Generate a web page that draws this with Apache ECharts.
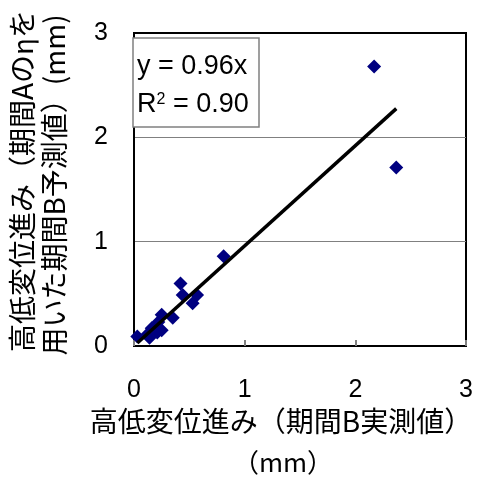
<!DOCTYPE html>
<html>
<head>
<meta charset="utf-8">
<script src="https://cdn.jsdelivr.net/npm/echarts@6/dist/echarts.min.js"></script>
<style>
html,body{margin:0;padding:0;background:#fff;}
#chart{width:485px;height:479px;}
</style>
</head>
<body>
<div id="chart"></div>
<script>
// ---- data ----
var measuredB = [0.03, 0.12, 0.14, 0.16, 0.21, 0.22, 0.25, 0.25, 0.35, 0.42, 0.44, 0.53, 0.57, 0.81, 2.17, 2.37];
var predictedB = [0.09, 0.11, 0.08, 0.17, 0.13, 0.23, 0.15, 0.30, 0.27, 0.60, 0.49, 0.41, 0.49, 0.86, 2.68, 1.71];
var slope = 0.96;
var eqText = 'y = 0.96x';
var r2Value = '0.90';
var xTicks = [0, 1, 2, 3];
var yTicks = [0, 1, 2, 3];
var xTitle1 = '高低変位進み（期間B実測値）';
var xTitle2 = '（mm）';
var yTitle1 = '高低変位進み（期間Aのηを';
var yTitle2 = '用いた期間B予測値）(mm)';

var points = measuredB.map(function (v, i) { return [v, predictedB[i]]; });
var xMin = Math.min.apply(null, measuredB);
var xMax = Math.max.apply(null, measuredB);
var trend = [[xMin, slope * xMin], [xMax, slope * xMax]];

var chart = echarts.init(document.getElementById('chart'));
var cjk = '"Noto Sans CJK JP", sans-serif';
var lat = '"Liberation Sans", Arial, sans-serif';

chart.setOption({
  animation: false,
  backgroundColor: '#fff',
  grid: {
    left: 134, right: 19, top: 33, bottom: 133,
    show: true, borderColor: '#000', borderWidth: 2, backgroundColor: 'transparent'
  },
  xAxis: {
    type: 'value', min: xTicks[0], max: xTicks[xTicks.length - 1], interval: 1,
    axisLine: { show: true, onZero: false, lineStyle: { color: '#000', width: 2 } },
    axisTick: { show: true, inside: true, length: 6, lineStyle: { color: '#808080', width: 2 } },
    splitLine: { show: false },
    axisLabel: { margin: 32, fontSize: 25, color: '#000', fontFamily: lat }
  },
  yAxis: {
    type: 'value', min: yTicks[0], max: yTicks[yTicks.length - 1], interval: 1,
    axisLine: { show: true, onZero: false, lineStyle: { color: '#000', width: 2 } },
    axisTick: { show: false },
    splitLine: { show: true, lineStyle: { color: ['#000', '#808080', '#808080', '#000'], width: 1 } },
    axisLabel: { margin: 26, fontSize: 25, color: '#000', fontFamily: lat }
  },
  series: [
    {
      type: 'scatter', data: points, symbol: 'diamond', symbolSize: 14,
      itemStyle: { color: '#000080', opacity: 1 }, z: 3
    },
    {
      type: 'line', data: trend, symbol: 'none',
      lineStyle: { color: '#000', width: 3.5 }, z: 4
    }
  ],
  graphic: [
    {
      type: 'rect', z: 100, shape: { x: 133, y: 38, width: 126, height: 89 },
      style: { fill: '#fff', stroke: '#808080', lineWidth: 1.5 }
    },
    {
      type: 'text', z: 101, x: 137, y: 67,
      style: { text: eqText, font: '27px ' + lat, fill: '#000', textAlign: 'left', textVerticalAlign: 'middle' }
    },
    {
      type: 'text', z: 101, x: 137, y: 105,
      style: {
        text: '{a|R}{s|2}{a| = ' + r2Value + '}',
        textAlign: 'left', textVerticalAlign: 'middle',
        rich: {
          a: { fontSize: 27, fontFamily: lat, color: '#000' },
          s: { fontSize: 16, fontFamily: lat, color: '#000', verticalAlign: 'top', padding: [0, 0, 10, 0] }
        }
      }
    },
    {
      type: 'text', z: 101, x: 281, y: 421,
      style: { text: xTitle1, font: '28px ' + cjk, fill: '#000', textAlign: 'center', textVerticalAlign: 'middle' }
    },
    {
      type: 'text', z: 101, x: 283, y: 462,
      style: { text: xTitle2, font: '26px ' + cjk, fill: '#000', textAlign: 'center', textVerticalAlign: 'middle' }
    },
    {
      type: 'text', z: 101, x: 22, y: 181, rotation: Math.PI / 2,
      style: { text: yTitle1, font: '28px ' + cjk, fill: '#000', textAlign: 'center', textVerticalAlign: 'middle' }
    },
    {
      type: 'text', z: 101, x: 54, y: 185, rotation: Math.PI / 2,
      style: { text: yTitle2, font: '28px ' + cjk, fill: '#000', textAlign: 'center', textVerticalAlign: 'middle' }
    }
  ]
});
</script>
</body>
</html>
